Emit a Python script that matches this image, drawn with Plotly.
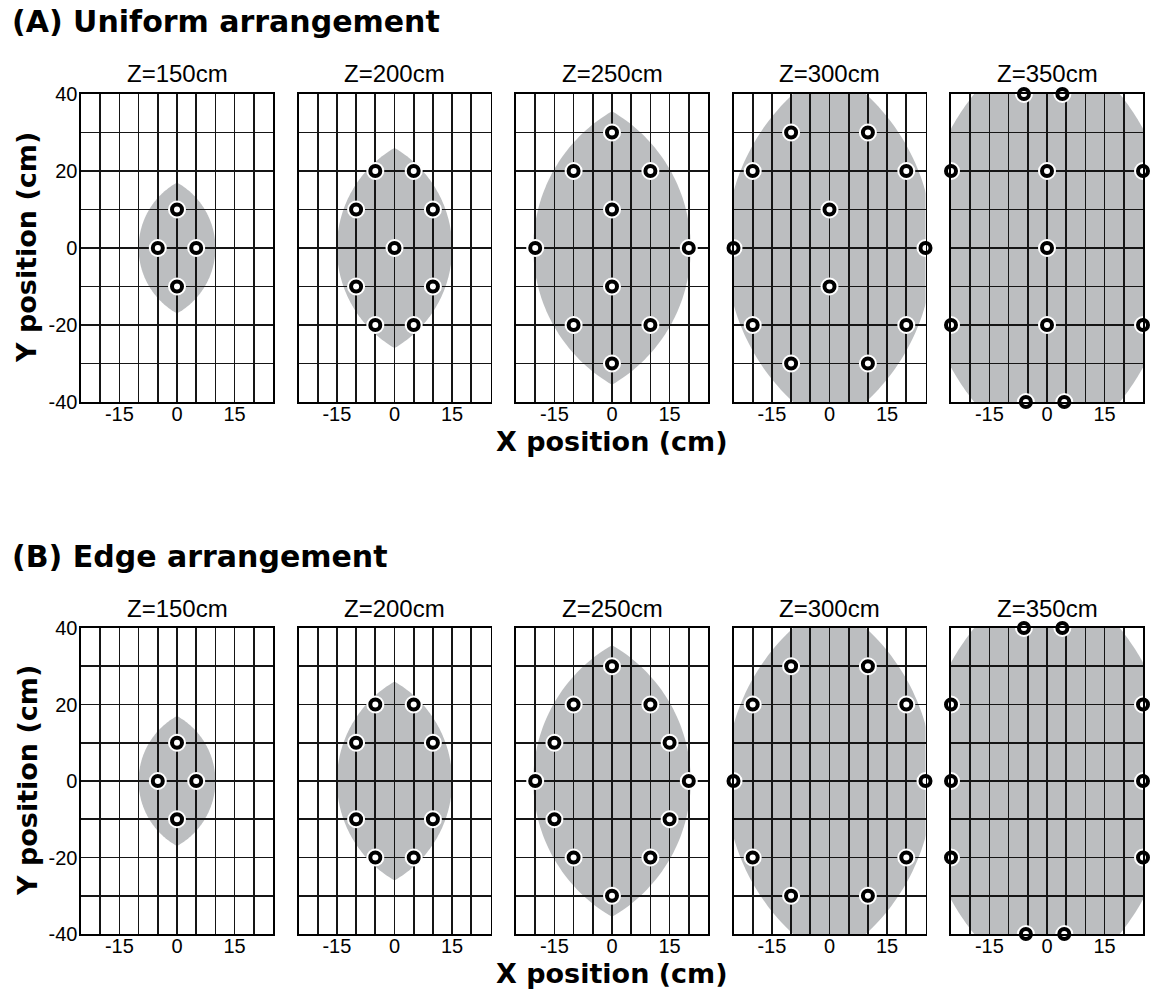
import numpy as np
import plotly.graph_objects as go

# ---------------- data ----------------
panel_titles = ["Z=150cm", "Z=200cm", "Z=250cm", "Z=300cm", "Z=350cm"]
row_titles = ["(A) Uniform arrangement", "(B) Edge arrangement"]

# coverage region (lens) half-width / half-height in cm for each distance
cover_half_width = [10, 15, 20.5, 27, 33]
cover_half_height = [17, 26, 35.5, 47, 56]

# (A) uniform arrangement: light positions (x, y) in cm
uniform_x = [
    [0, -5, 5, 0],
    [-5, 5, -10, 10, 0, -10, 10, -5, 5],
    [0, -10, 10, 0, -20, 20, 0, -10, 10, 0],
    [-10, 10, -20, 20, 0, -25, 25, 0, -20, 20, -10, 10],
    [-6, 4, -25, 0, 25, 0, -25, 0, 25, -5.5, 4.5],
]
uniform_y = [
    [10, 0, 0, -10],
    [20, 20, 10, 10, 0, -10, -10, -20, -20],
    [30, 20, 20, 10, 0, 0, -10, -20, -20, -30],
    [30, 30, 20, 20, 10, 0, 0, -10, -20, -20, -30, -30],
    [40, 40, 20, 20, 20, 0, -20, -20, -20, -40, -40],
]

# (B) edge arrangement
edge_x = [
    [0, -5, 5, 0],
    [-5, 5, -10, 10, -10, 10, -5, 5],
    [0, -10, 10, -15, 15, -20, 20, -15, 15, -10, 10, 0],
    [-10, 10, -20, 20, -25, 25, -20, 20, -10, 10],
    [-6, 4, -25, 25, -25, 25, -25, 25, -5.5, 4.5],
]
edge_y = [
    [10, 0, 0, -10],
    [20, 20, 10, 10, -10, -10, -20, -20],
    [30, 20, 20, 10, 10, 0, 0, -10, -10, -20, -20, -30],
    [30, 30, 20, 20, 0, 0, -20, -20, -30, -30],
    [40, 40, 20, 20, 0, 0, -20, -20, -40, -40],
]

x_tick_vals = [-25, -20, -15, -10, -5, 0, 5, 10, 15, 20, 25]
x_tick_text = ["", "", "-15", "", "", "0", "", "", "15", "", ""]
y_tick_vals = [-40, -30, -20, -10, 0, 10, 20, 30, 40]
y_tick_text = ["-40", "", "-20", "", "0", "", "20", "", "40"]

# ---------------- layout geometry (screen pixels) ----------------
W, H = 1152, 989

def px(x):
    return x / W

def py(y):
    return 1 - y / H

panel_left = [81, 298.5, 516, 733.5, 951]
panel_w = 192
row_top = [94, 628]
row_bot = [402, 934]

GRAY = "#bcbec0"
GRID = "#151515"
TICKFONT = dict(family="Liberation Sans, Arial, sans-serif", size=20, color="black")

fig = go.Figure()
layout = dict(
    width=W, height=H, autosize=False,
    margin=dict(l=0, r=0, t=0, b=0, pad=0, autoexpand=False),
    paper_bgcolor="white", plot_bgcolor="white",
    showlegend=False,
)
shapes = []
annotations = []

def lens_path(a, b, n=120):
    # lens formed by two circles; half-width a, half-height b
    s = b * b / a
    R = (s + a) / 2.0
    d = (s - a) / 2.0
    ys = np.linspace(-b, b, n)
    xl = d - np.sqrt(np.maximum(R * R - ys * ys, 0))
    xr = -xl
    pts = [(xl[i], ys[i]) for i in range(n)] + [(xr[i], ys[i]) for i in range(n - 1, -1, -1)]
    return "M " + " L ".join(f"{x:.3f},{y:.3f}" for x, y in pts) + " Z"

for r in range(2):
    xs_all = uniform_x if r == 0 else edge_x
    ys_all = uniform_y if r == 0 else edge_y
    for c in range(5):
        k = r * 5 + c + 1
        xa = f"xaxis{k}" if k > 1 else "xaxis"
        ya = f"yaxis{k}" if k > 1 else "yaxis"
        xref = f"x{k}" if k > 1 else "x"
        yref = f"y{k}" if k > 1 else "y"
        layout[xa] = dict(
            domain=[px(panel_left[c]), px(panel_left[c] + panel_w)],
            anchor=yref, range=[-25, 25], automargin=False,
            tickmode="array", tickvals=x_tick_vals, ticktext=x_tick_text,
            showgrid=True, gridcolor=GRID, gridwidth=1.6,
            zeroline=False, showline=True, mirror=True,
            linecolor="black", linewidth=1.6, ticks="", ticklen=0,
            ticklabelstandoff=-7,
            tickfont=TICKFONT, fixedrange=True,
        )
        layout[ya] = dict(
            domain=[py(row_bot[r]), py(row_top[r])],
            anchor=xref, range=[-40, 40], automargin=False,
            tickmode="array", tickvals=y_tick_vals,
            ticktext=y_tick_text if c == 0 else [""] * len(y_tick_vals),
            showticklabels=(c == 0),
            showgrid=True, gridcolor=GRID, gridwidth=1.6,
            zeroline=False, showline=True, mirror=True,
            linecolor="black", linewidth=1.6, ticks="", ticklen=0,
            ticklabelstandoff=-2,
            tickfont=TICKFONT, fixedrange=True,
        )
        shapes.append(dict(
            type="path", xref=xref, yref=yref, layer="below",
            path=lens_path(cover_half_width[c], cover_half_height[c]),
            fillcolor=GRAY, line=dict(width=0),
        ))
        fig.add_trace(go.Scatter(
            x=xs_all[c], y=ys_all[c], xaxis=xref, yaxis=yref,
            mode="markers", cliponaxis=False, hoverinfo="skip",
            marker=dict(size=16, color="black", line=dict(color="white", width=2)),
        ))
        fig.add_trace(go.Scatter(
            x=xs_all[c], y=ys_all[c], xaxis=xref, yaxis=yref,
            mode="markers", cliponaxis=False, hoverinfo="skip",
            marker=dict(size=6, color="white", line=dict(width=0)),
        ))
        # panel title
        annotations.append(dict(
            text=panel_titles[c], xref="paper", yref="paper",
            x=px(panel_left[c] + panel_w / 2), y=py(row_top[r] - 20),
            xanchor="center", yanchor="middle", showarrow=False,
            font=dict(family="Liberation Sans, Arial, sans-serif", size=24, color="black"),
        ))
    # row title
    annotations.append(dict(
        text=f"<b>{row_titles[r]}</b>", xref="paper", yref="paper",
        x=px(10), y=py(row_top[r] - 72), xanchor="left", yanchor="middle",
        showarrow=False,
        font=dict(family="DejaVu Sans, sans-serif", size=30, color="black"),
    ))
    # y axis title
    annotations.append(dict(
        text="<b>Y position (cm)</b>", xref="paper", yref="paper",
        x=px(27), y=py((row_top[r] + row_bot[r]) / 2),
        xanchor="center", yanchor="middle", textangle=-90, showarrow=False,
        font=dict(family="DejaVu Sans, sans-serif", size=27, color="black"),
    ))
    # x axis title
    annotations.append(dict(
        text="<b>X position (cm)</b>", xref="paper", yref="paper",
        x=px(panel_left[2] + panel_w / 2), y=py(row_bot[r] + 39),
        xanchor="center", yanchor="middle", showarrow=False,
        font=dict(family="DejaVu Sans, sans-serif", size=27, color="black"),
    ))

layout["shapes"] = shapes
layout["annotations"] = annotations
fig.update_layout(**layout)
fig.write_html(
    "out.html",
    config={"displayModeBar": False, "staticPlot": True},
    post_script="document.body.style.margin='0';document.body.style.padding='0';",
)
